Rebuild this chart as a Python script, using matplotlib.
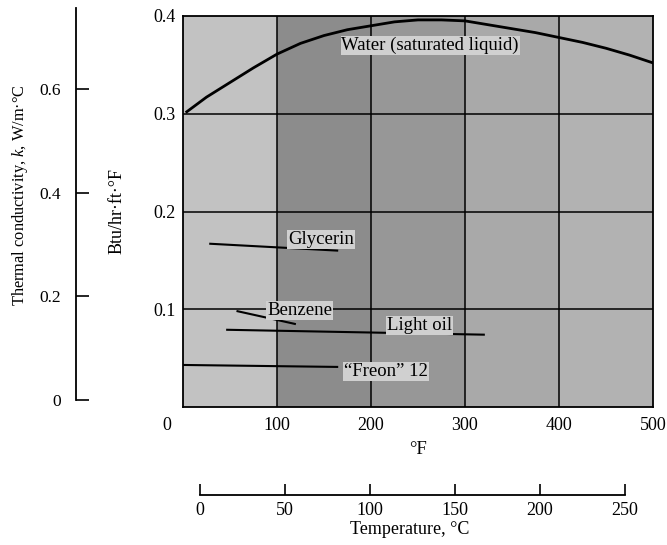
import matplotlib
matplotlib.use("Agg")
import matplotlib.pyplot as plt
import matplotlib.transforms as mtransforms

plt.rcParams['font.family'] = ['Liberation Serif', 'DejaVu Serif']
plt.rcParams['mathtext.fontset'] = 'custom'
plt.rcParams['mathtext.it'] = 'Liberation Serif:italic'

# Dados (temperatura em °F, k em Btu/hr·ft·°F)
water_F = [4, 25, 50, 75, 100, 125, 150, 175, 200, 225, 250, 275, 300,
           325, 350, 375, 400, 425, 450, 475, 500]
water_k = [0.302, 0.317, 0.332, 0.347, 0.361, 0.372, 0.380, 0.386, 0.390, 0.394, 0.396, 0.396, 0.395,
           0.391, 0.387, 0.383, 0.378, 0.373, 0.367, 0.360, 0.352]
glycerin_F = [29, 164]
glycerin_k = [0.167, 0.160]
benzene_F = [58, 119]
benzene_k = [0.098, 0.085]
lightoil_F = [47, 320]
lightoil_k = [0.079, 0.074]
freon_F = [1, 164]
freon_k = [0.043, 0.041]

F_ticks = [0, 100, 200, 300, 400, 500]
btu_ticks = [0.1, 0.2, 0.3, 0.4]
si_ticks = [0, 0.2, 0.4, 0.6]
C_ticks = [0, 50, 100, 150, 200, 250]

W, H = 667, 545
fig = plt.figure(figsize=(W / 100, H / 100), dpi=100)
fig.patch.set_facecolor('white')


def box(x0, y_top, x1, y_bot):
    # pixel box (origem no topo) -> fração da figura
    return [x0 / W, 1 - y_bot / H, (x1 - x0) / W, (y_bot - y_top) / H]


# eixo principal
ax = fig.add_axes(box(183, 16, 653, 407))
ax.set_xlim(0, 500)
ax.set_ylim(0, 0.4)

# fundo cinza (imitando o tom da digitalização)
shades = ['#c2c2c2', '#8c8c8c', '#979797', '#a9a9a9', '#b2b2b2']
for i, c in enumerate(shades):
    ax.axvspan(i * 100, (i + 1) * 100, color=c, lw=0, zorder=0)

for f in F_ticks[1:-1]:
    ax.axvline(f, color='black', lw=1.1, zorder=1)
for b in btu_ticks[:-1]:
    ax.axhline(b, color='black', lw=1.1, zorder=1)

ax.plot(water_F, water_k, color='black', lw=2.0, zorder=3)
ax.plot(glycerin_F, glycerin_k, color='black', lw=1.5, zorder=3)
ax.plot(benzene_F, benzene_k, color='black', lw=1.5, zorder=3)
ax.plot(lightoil_F, lightoil_k, color='black', lw=1.5, zorder=3)
ax.plot(freon_F, freon_k, color='black', lw=1.5, zorder=3)

lbl = dict(fontsize=13.5, ha='center', va='center', zorder=4,
           bbox=dict(boxstyle='square,pad=0.05', fc='#d0d0d0', ec='none'))
ax.text(263, 0.370, 'Water (saturated liquid)', **lbl)
ax.text(147, 0.171, 'Glycerin', **lbl)
ax.text(124, 0.099, 'Benzene', **lbl)
ax.text(252, 0.083, 'Light oil', **lbl)
ax.text(216, 0.036, '\u201cFreon\u201d 12', **lbl)

for s in ax.spines.values():
    s.set_linewidth(1.3)
ax.set_xticks(F_ticks)
ax.set_yticks(btu_ticks)
ax.set_yticklabels([str(t) for t in btu_ticks])
ax.tick_params(length=0, labelsize=13)
ax.tick_params(axis='x', pad=7)
ax.tick_params(axis='y', pad=5)
# o "0" do eixo x fica deslocado à esquerda no original
off = mtransforms.ScaledTranslation(-16 / 100, 0, fig.dpi_scale_trans)
first = ax.get_xticklabels()[0]
first.set_transform(first.get_transform() + off)
ax.set_xlabel('°F', fontsize=13.5, labelpad=5)
ax.set_ylabel('Btu/hr·ft·°F', fontsize=13)
ax.yaxis.set_label_coords(-0.123, 0.5)

# eixo em W/m·°C à esquerda
ax2 = fig.add_axes(box(76, 8, 76.5, 400))
ax2.set_ylim(0, 392 / 518.3)
ax2.set_xticks([])
ax2.set_yticks(si_ticks)
ax2.set_yticklabels(['0', '0.2', '0.4', '0.6'])
for k in ['top', 'right', 'bottom']:
    ax2.spines[k].set_visible(False)
ax2.spines['left'].set_linewidth(1.3)
ax2.patch.set_alpha(0)
ax2.tick_params(axis='y', direction='in', length=9, width=1.2, pad=11, labelsize=12.5)
fig.text(20 / W, 1 - 195 / H, 'Thermal conductivity, $k$, W/m·°C',
         rotation=90, ha='center', va='center', fontsize=11.8)

# eixo em °C embaixo
ax3 = fig.add_axes(box(200, 480, 625, 495))
ax3.set_xlim(0, 250)
ax3.set_yticks([])
ax3.set_xticks(C_ticks)
for k in ['top', 'right', 'left']:
    ax3.spines[k].set_visible(False)
ax3.spines['bottom'].set_linewidth(1.3)
ax3.patch.set_alpha(0)
ax3.tick_params(axis='x', direction='in', length=8, width=1.2, pad=5, labelsize=13)
fig.text(410 / W, 1 - 530 / H, 'Temperature, °C', ha='center', va='center', fontsize=13)

fig.savefig('out.png', dpi=100)
